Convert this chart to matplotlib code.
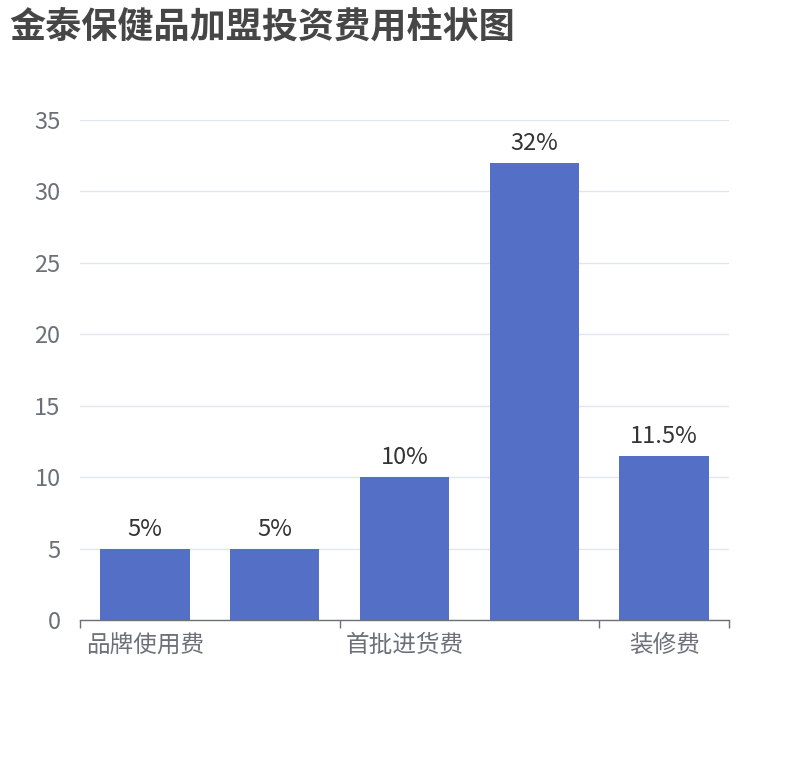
import numpy as np
import matplotlib
matplotlib.use("Agg")
import matplotlib.pyplot as plt

plt.rcParams['font.family'] = ['Noto Sans CJK SC', 'DejaVu Sans']

# data
categories = ["品牌使用费", "保证金", "首批进货费", "设备费", "装修费"]
values = [5, 5, 10, 32, 11.5]
shown_labels = [0, 2, 4]  # other category labels are hidden in the original (overlap)
y_ticks = [0, 5, 10, 15, 20, 25, 30, 35]

bar_color = "#5470c6"
axis_color = "#6e7079"
grid_color = "#e0e6f1"

fig = plt.figure(figsize=(8.1, 7.6), dpi=100)
ax = fig.add_axes([80 / 810, 1 - 620 / 760, 649 / 810, 500 / 760])

x = np.arange(len(categories))
bars = ax.bar(x, values, width=0.69, color=bar_color, zorder=3)

for rect, v in zip(bars, values):
    ax.text(rect.get_x() + rect.get_width() / 2, v + 0.55, f"{v:g}%",
            ha="center", va="bottom", fontsize=17, color="#333333")

ax.set_xlim(-0.5, len(categories) - 0.5)
ax.set_ylim(0, 35)
ax.set_yticks(y_ticks)
ax.yaxis.grid(True, color=grid_color, linewidth=1, zorder=0)
ax.tick_params(axis="y", length=0, pad=14, labelsize=17, labelcolor=axis_color)

# category ticks on boundaries, labels at the shown categories
ax.set_xticks([-0.5, 1.5, 3.5, 4.5])
ax.set_xticklabels([])
ax.tick_params(axis="x", length=6, width=1, color=axis_color)
for i in shown_labels:
    ax.text(i, -0.95, categories[i], ha="center", va="top", fontsize=17,
            color=axis_color, transform=ax.transData)

for s in ["top", "right", "left"]:
    ax.spines[s].set_visible(False)
ax.spines["bottom"].set_color(axis_color)
ax.spines["bottom"].set_linewidth(1)
ax.spines["bottom"].set_zorder(4)

fig.text(9 / 810, 1 - 27 / 760, "金泰保健品加盟投资费用柱状图", fontsize=26,
         fontweight="bold", color="#464646", ha="left", va="center")

fig.savefig("out.png", dpi=100)
